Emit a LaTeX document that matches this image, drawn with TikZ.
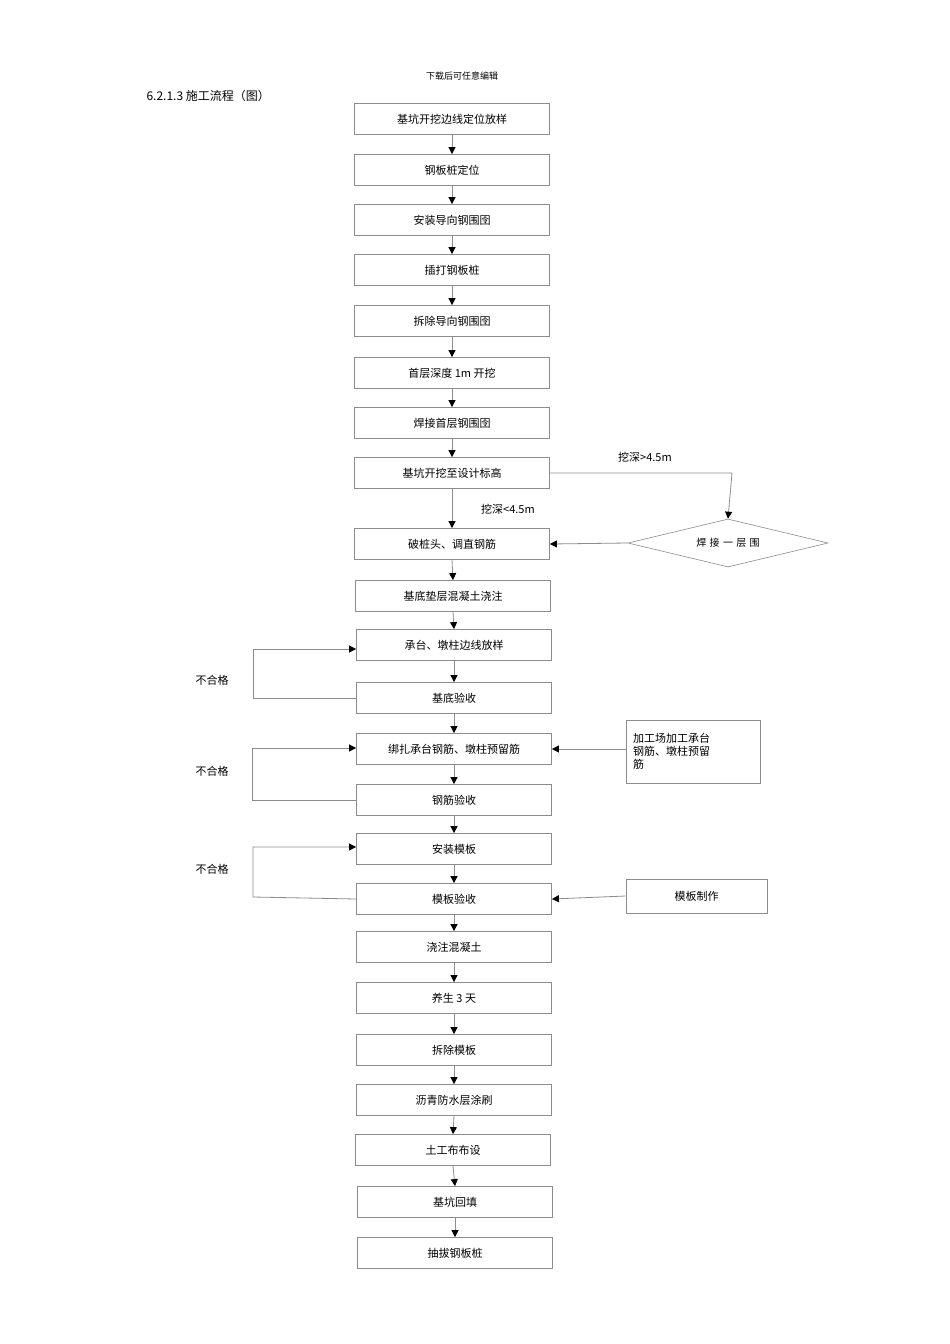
\documentclass[tikz,border=0pt]{standalone}
\usepackage{fontspec}
\setmainfont{Carlito}
\newfontfamily\cjk{Noto Sans CJK SC}
\usetikzlibrary{arrows.meta,shapes.geometric}
\begin{document}
\begin{tikzpicture}[x=1pt,y=-1pt,
  box/.style={draw=black!45,line width=0.8pt,minimum width=195pt,minimum height=31pt,inner sep=0pt,font=\cjk\fontsize{11}{13}\selectfont},
  sbox/.style={draw=black!45,line width=0.8pt,inner sep=0pt,font=\cjk\fontsize{11}{13}\selectfont},
  lab/.style={font=\cjk\fontsize{11}{13}\selectfont},
  arr/.style={draw=black!45,line width=0.8pt,-{Triangle[black,length=7pt,width=7pt]}}]
\useasboundingbox (0,0) rectangle (950,1344);
\fill[white] (0,0) rectangle (950,1344);
\node[lab,font=\cjk\fontsize{9}{11}\selectfont] (hd) at (462,76) {下载后可任意编辑};
\node[lab,anchor=west,font=\cjk\fontsize{12}{14}\selectfont] (tt) at (143,96) {6.2.1.3 施工流程（图）};
\node[box] (b1) at (452,119) {基坑开挖边线定位放样};
\node[box] (b2) at (452,170) {钢板桩定位};
\node[box] (b3) at (452,220) {安装导向钢围囹};
\node[box] (b4) at (452,270) {插打钢板桩};
\node[box] (b5) at (452,321) {拆除导向钢围囹};
\node[box] (b6) at (452,373) {首层深度 1m 开挖};
\node[box] (b7) at (452,423) {焊接首层钢围囹};
\node[box] (b8) at (452,473) {基坑开挖至设计标高};
\node[box] (b9) at (452,544) {破桩头、调直钢筋};
\node[box] (b10) at (453,596) {基底垫层混凝土浇注};
\node[box] (b11) at (454,645) {承台、墩柱边线放样};
\node[box] (b12) at (454,698) {基底验收};
\node[box] (b13) at (454,749) {绑扎承台钢筋、墩柱预留筋};
\node[box] (b14) at (454,800) {钢筋验收};
\node[box] (b15) at (454,849) {安装模板};
\node[box] (b16) at (454,899) {模板验收};
\node[box] (b17) at (454,947) {浇注混凝土};
\node[box] (b18) at (454,998) {养生 3 天};
\node[box] (b19) at (454,1050) {拆除模板};
\node[box] (b20) at (454,1100) {沥青防水层涂刷};
\node[box] (b21) at (453,1150) {土工布布设};
\node[box] (b22) at (455,1202) {基坑回填};
\node[box] (b23) at (455,1253) {抽拔钢板桩};
\foreach \a/\b in {b1/b2,b2/b3,b3/b4,b4/b5,b5/b6,b6/b7,b7/b8,b8/b9,b9/b10,b10/b11,b11/b12,b12/b13,b13/b14,b14/b15,b15/b16,b16/b17,b17/b18,b18/b19,b19/b20,b20/b21,b21/b22,b22/b23}
  \draw[arr] (\a.south) -- (\b.north);
\node[draw=black!45,line width=0.6pt,diamond,aspect=4.2,minimum width=200pt,minimum height=48pt,inner sep=0pt,font=\cjk\fontsize{10}{12}\selectfont] (d) at (728,543) {焊\,\,接\,\,一\,\,层\,\,围};
\coordinate (c1) at (732,473);
\draw[arr] (b8.east) -- (c1) -- (d.north);
\draw[arr] (d.west) -- (b9.east);
\node[lab] (l1) at (645,457) {挖深>4.5m};
\node[lab] (l2) at (508,509) {挖深<4.5m};
\node[sbox,minimum width=134pt,minimum height=63pt,align=left,text width=120pt] (s1) at (693,751.5) {加工场加工承台\\钢筋、墩柱预留\\筋};
\node[sbox,minimum width=141pt,minimum height=34pt] (s2) at (696.5,896) {模板制作};
\draw[arr] (s1.west|-b13.east) -- (b13.east);
\draw[arr] (s2.west) -- (b16.east);
\coordinate (f1) at (253,698); \coordinate (f2) at (253,649);
\draw[arr] (b12.west) -- (f1) -- (f2) -- (f2-|b11.west);
\coordinate (f3) at (252,800); \coordinate (f4) at (252,748);
\draw[arr] (b14.west) -- (f3) -- (f4) -- (f4-|b13.west);
\coordinate (f5) at (253,897); \coordinate (f6) at (253,847);
\draw[arr] (b16.west) -- (f5) -- (f6) -- (f6-|b15.west);
\node[lab] (n1) at (212,680) {不合格};
\node[lab] (n2) at (212,771) {不合格};
\node[lab] (n3) at (212,869) {不合格};
\end{tikzpicture}
\end{document}
